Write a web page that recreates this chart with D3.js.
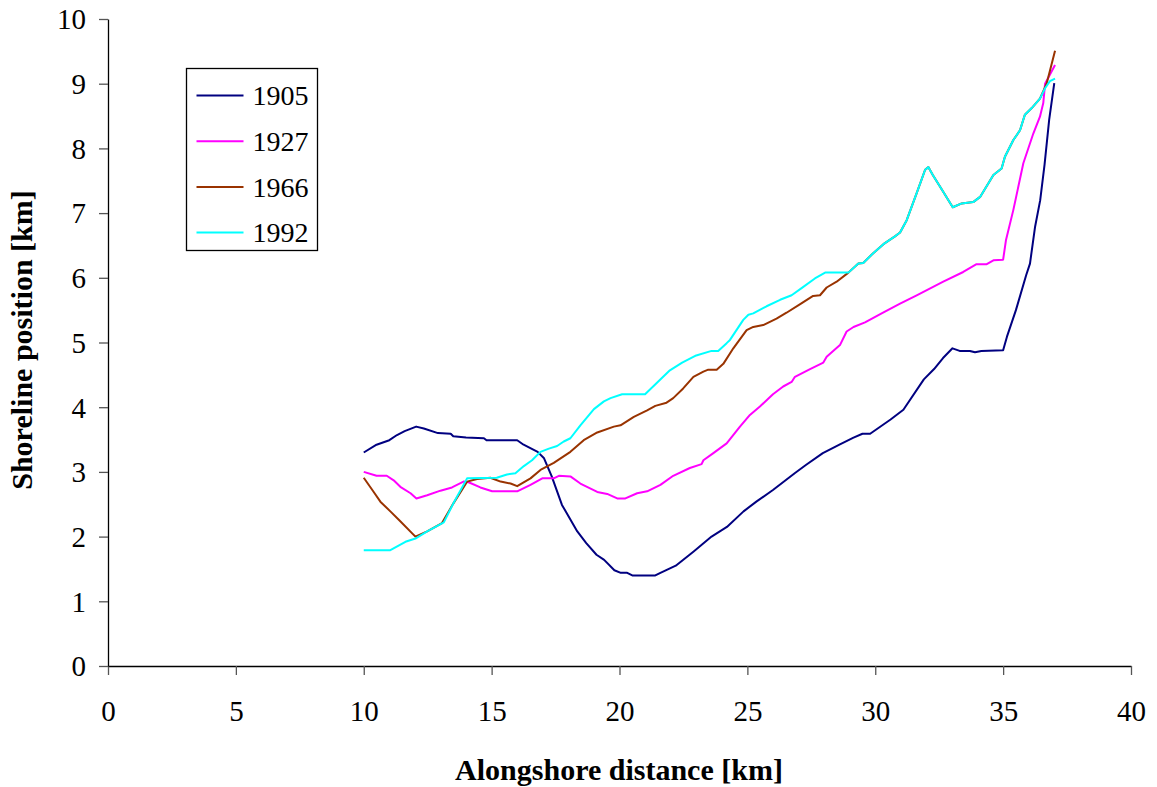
<!DOCTYPE html>
<html>
<head>
<meta charset="utf-8">
<script src="https://cdn.jsdelivr.net/npm/d3@7/dist/d3.min.js"></script>
<style>
  html, body { margin: 0; padding: 0; background: #fff; }
  svg { display: block; }
  text { font-family: "Liberation Serif", "Times New Roman", serif; fill: #000; }
</style>
</head>
<body>
<svg id="chart" width="1157" height="787"></svg>
<script>
// ---- data ----
const xTicks = [0, 5, 10, 15, 20, 25, 30, 35, 40];
const yTicks = [0, 1, 2, 3, 4, 5, 6, 7, 8, 9, 10];
const seriesNames = ["1905", "1927", "1966", "1992"];
const seriesColors = ["#000080", "#ff00ff", "#993300", "#00ffff"];

const x1905 = [10, 10.5, 11, 11.3, 11.6, 12.05, 12.35, 12.9, 13.4, 13.5, 14.0, 14.7, 14.8, 16.0, 16.25, 16.8, 17.05, 17.35, 17.75, 18.35, 18.7, 19.1, 19.4, 19.8, 20.05, 20.3, 20.5, 21.4, 21.6, 22.2, 22.9, 23.6, 24.2, 24.85, 25.35, 26.0, 26.85, 27.3, 27.95, 28.6, 29.15, 29.5, 29.8, 30.6, 31.1, 31.9, 32.3, 32.65, 33.02, 33.3, 33.7, 33.9, 34.15, 35.0, 35.15, 35.5, 35.9, 36.05, 36.25, 36.45, 36.62, 36.8, 37.0];
const y1905 = [3.30, 3.42, 3.49, 3.57, 3.63, 3.70, 3.67, 3.60, 3.59, 3.55, 3.53, 3.52, 3.49, 3.49, 3.42, 3.31, 3.21, 2.93, 2.49, 2.08, 1.90, 1.72, 1.64, 1.48, 1.44, 1.44, 1.40, 1.40, 1.44, 1.55, 1.77, 2.00, 2.15, 2.39, 2.54, 2.72, 2.98, 3.11, 3.29, 3.42, 3.53, 3.59, 3.59, 3.81, 3.96, 4.43, 4.59, 4.76, 4.91, 4.87, 4.87, 4.85, 4.87, 4.88, 5.09, 5.50, 6.04, 6.22, 6.79, 7.20, 7.75, 8.44, 9.01];

const x1927 = [10, 10.5, 10.9, 11.17, 11.43, 11.83, 12.06, 12.48, 13.0, 13.45, 13.9, 14.1, 14.56, 15.02, 16.0, 16.52, 16.98, 17.43, 17.63, 18.08, 18.47, 19.13, 19.52, 19.91, 20.23, 20.69, 21.08, 21.6, 22.1, 22.75, 23.21, 23.28, 23.67, 24.19, 24.71, 25.1, 25.49, 26.0, 26.4, 26.73, 26.86, 27.45, 27.97, 28.1, 28.62, 28.88, 29.15, 29.6, 30.25, 30.97, 31.62, 32.66, 33.44, 33.96, 34.36, 34.62, 35.0, 35.11, 35.4, 35.79, 36.18, 36.44, 36.57, 36.64, 37.03];
const y1927 = [3.00, 2.94, 2.94, 2.87, 2.77, 2.67, 2.59, 2.64, 2.71, 2.76, 2.85, 2.84, 2.76, 2.70, 2.70, 2.80, 2.90, 2.90, 2.94, 2.93, 2.82, 2.69, 2.66, 2.59, 2.59, 2.67, 2.70, 2.80, 2.94, 3.06, 3.12, 3.18, 3.29, 3.44, 3.70, 3.88, 4.01, 4.20, 4.32, 4.39, 4.47, 4.59, 4.69, 4.78, 4.96, 5.17, 5.24, 5.31, 5.45, 5.60, 5.73, 5.94, 6.09, 6.21, 6.21, 6.27, 6.28, 6.58, 7.05, 7.77, 8.23, 8.49, 8.70, 9.00, 9.29];

const x1966 = [10, 10.39, 10.65, 11.04, 11.37, 12.02, 12.48, 13.06, 13.5, 14.04, 14.43, 14.95, 15.35, 15.74, 16.0, 16.52, 16.91, 17.43, 18.08, 18.6, 19.13, 19.78, 20.04, 20.56, 21.08, 21.4, 21.84, 22.1, 22.49, 22.89, 23.28, 23.47, 23.8, 24.06, 24.45, 24.97, 25.23, 25.62, 26.14, 26.53, 27.05, 27.57, 27.84, 28.1, 28.49, 28.95, 29.34, 29.53, 29.92, 30.32, 30.77, 30.97, 31.23, 31.62, 31.95, 32.08, 32.25, 32.53, 33.03, 33.38, 33.83, 34.1, 34.62, 34.94, 35.07, 35.4, 35.66, 35.85, 36.11, 36.44, 36.7, 37.03];
const y1966 = [2.91, 2.69, 2.54, 2.39, 2.26, 2.00, 2.08, 2.21, 2.51, 2.85, 2.89, 2.91, 2.85, 2.82, 2.78, 2.90, 3.03, 3.14, 3.31, 3.49, 3.61, 3.70, 3.72, 3.85, 3.95, 4.02, 4.07, 4.14, 4.29, 4.47, 4.55, 4.58, 4.58, 4.67, 4.91, 5.19, 5.24, 5.27, 5.37, 5.46, 5.59, 5.72, 5.73, 5.85, 5.94, 6.08, 6.22, 6.23, 6.38, 6.52, 6.64, 6.70, 6.89, 7.31, 7.67, 7.71, 7.59, 7.41, 7.09, 7.15, 7.17, 7.25, 7.59, 7.69, 7.87, 8.13, 8.28, 8.52, 8.62, 8.77, 9.00, 9.51];

const x1992 = [10, 11.04, 11.63, 12.02, 12.48, 13.13, 13.5, 14.04, 15.2, 15.6, 15.93, 16.26, 16.58, 16.91, 17.24, 17.56, 17.82, 18.08, 18.47, 19.0, 19.39, 19.65, 20.1, 21.0, 21.97, 22.45, 23.0, 23.6, 23.86, 24.19, 24.32, 24.84, 25.04, 25.23, 25.75, 26.28, 26.73, 27.12, 27.64, 28.04, 28.95, 29.34, 29.53, 29.92, 30.32, 30.77, 30.97, 31.23, 31.62, 31.95, 32.08, 32.25, 32.53, 33.03, 33.38, 33.83, 34.1, 34.62, 34.94, 35.07, 35.4, 35.66, 35.85, 36.11, 36.44, 36.64, 36.83, 37.03];
const y1992 = [1.79, 1.79, 1.92, 1.97, 2.08, 2.22, 2.51, 2.90, 2.91, 2.96, 2.98, 3.09, 3.18, 3.31, 3.36, 3.40, 3.47, 3.52, 3.72, 3.97, 4.09, 4.14, 4.20, 4.20, 4.57, 4.69, 4.80, 4.87, 4.87, 4.99, 5.04, 5.35, 5.43, 5.45, 5.56, 5.66, 5.73, 5.84, 5.99, 6.08, 6.08, 6.22, 6.23, 6.38, 6.52, 6.64, 6.70, 6.89, 7.31, 7.67, 7.71, 7.59, 7.41, 7.09, 7.15, 7.17, 7.25, 7.59, 7.69, 7.87, 8.13, 8.28, 8.52, 8.62, 8.77, 8.93, 9.04, 9.08];

const seriesX = [x1905, x1927, x1966, x1992];
const seriesY = [y1905, y1927, y1966, y1992];

const xTitle = "Alongshore distance [km]";
const yTitle = "Shoreline position [km]";

// ---- layout ----
const svg = d3.select("#chart");
const mLeft = 108, mRight = 1131, mTop = 19, mBottom = 666;

const x = d3.scaleLinear().domain([0, 40]).range([mLeft, mRight]);
const y = d3.scaleLinear().domain([0, 10]).range([mBottom, mTop]);

// axes
const xAxis = d3.axisBottom(x).tickValues(xTicks).tickSize(9).tickSizeOuter(0).tickFormat(d3.format("d"));
const yAxis = d3.axisLeft(y).tickValues(yTicks).tickSize(9).tickSizeOuter(0).tickFormat(d3.format("d"));

const gx = svg.append("g").attr("transform", `translate(0,${mBottom})`).call(xAxis);
const gy = svg.append("g").attr("transform", `translate(${mLeft},0)`).call(yAxis);

[gx, gy].forEach(g => {
  g.select(".domain").attr("stroke", "#000").attr("stroke-width", 1.3);
  g.selectAll(".tick line").attr("stroke", "#555").attr("stroke-width", 1.3);
  g.selectAll(".tick text").attr("fill", "#000")
    .style("font-family", '"Liberation Serif", "Times New Roman", serif')
    .style("font-size", "29px");
});
gx.selectAll(".tick text").attr("dy", null).attr("y", 55);
gy.selectAll(".tick text").attr("x", -22).attr("dy", "0.34em");

// lines
const line = d3.line().x(d => x(d[0])).y(d => y(d[1]));
seriesNames.forEach((name, i) => {
  const pts = seriesX[i].map((v, j) => [v, seriesY[i][j]]);
  svg.append("path")
    .datum(pts)
    .attr("fill", "none")
    .attr("stroke", seriesColors[i])
    .attr("stroke-width", 2)
    .attr("stroke-linejoin", "round")
    .attr("d", line);
});

// axis titles
svg.append("text")
  .attr("x", 619)
  .attr("y", 780)
  .attr("text-anchor", "middle")
  .style("font-weight", "bold")
  .style("font-size", "30px")
  .text(xTitle);

svg.append("text")
  .attr("transform", `translate(32,340) rotate(-90)`)
  .attr("text-anchor", "middle")
  .style("font-weight", "bold")
  .style("font-size", "30px")
  .text(yTitle);

// legend
const lg = svg.append("g").attr("transform", "translate(186.5,68.5)");
lg.append("rect").attr("width", 131).attr("height", 182)
  .attr("fill", "#fff").attr("stroke", "#000").attr("stroke-width", 1.3);
seriesNames.forEach((name, i) => {
  const cy = 27 + i * 45.7;
  lg.append("line").attr("x1", 10).attr("x2", 57).attr("y1", cy).attr("y2", cy)
    .attr("stroke", seriesColors[i]).attr("stroke-width", 2);
  lg.append("text").attr("x", 66).attr("y", cy).attr("dy", "0.35em")
    .style("font-size", "28px").text(name);
});
</script>
</body>
</html>
